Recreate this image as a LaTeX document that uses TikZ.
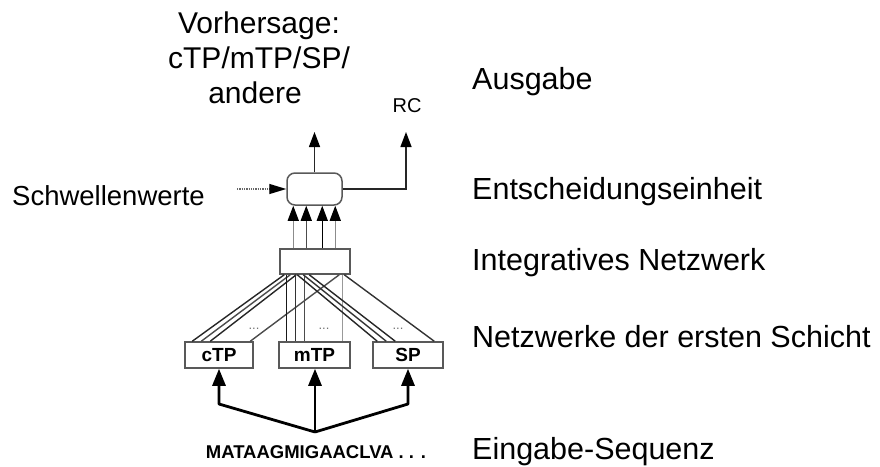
\documentclass[tikz,border=0pt]{standalone}
\usepackage{fontspec}
\setmainfont{Liberation Sans}
\usetikzlibrary{arrows.meta,calc}
\begin{document}
\begin{tikzpicture}[x=1pt,y=-1pt,
  box/.style={draw=black!65, line width=1.5pt, inner sep=0pt, minimum height=26pt, font=\fontsize{19}{21}\selectfont\bfseries},
  lbl/.style={anchor=base west, inner sep=0pt, font=\fontsize{30.5}{35}\selectfont},
  toplbl/.style={anchor=base, inner sep=0pt, font=\fontsize{30}{35}\selectfont},
  thinln/.style={line width=1.4pt, draw=black!85},
  tip/.style={-{Triangle[length=15pt,width=11pt,color=black]}},
  fat/.style={line width=2.8pt, line join=round, -{Triangle[length=17pt,width=13pt]}},
  dotsl/.style={font=\fontsize{13}{13}\selectfont, text=black!55, inner sep=0pt}
]
\useasboundingbox (0,0) rectangle (880,466);

% boxes
\node[box, minimum width=55pt, minimum height=32pt, rounded corners=8pt] (dec) at (314.5,189) {};
\node[box, minimum width=70pt, minimum height=25pt] (integ) at (315,261.5) {};
\node[box, minimum width=68pt] (ctp) at (219,355) {cTP};
\node[box, minimum width=71pt] (mtp) at (314.5,355) {mTP};
\node[box, minimum width=70pt] (sp) at (408,355) {SP};

% sequence
\node[anchor=base, inner sep=0pt, font=\fontsize{18.5}{20}\selectfont\bfseries] (seq) at (316,458) {MATAAGMIGAACLVA . . .};

% input arrows
\coordinate (hub) at (315,432);
\coordinate (lc) at (219,404);
\coordinate (rc) at (408,404);
\draw[fat] (hub) -- (lc) -- (ctp.south);
\draw[fat] (hub) -- (hub |- mtp.south);
\draw[fat] (hub) -- (rc) -- (sp.south);

% first layer to integrative network
\foreach \a/\b/\c in {5/8/black!85, 11/17/black!70, 17/26/black!85, 60/66/black!70}
  \draw[thinln, draw=\c] ($(integ.south west)+(\a,0)$) -- ($(ctp.north west)+(\b,0)$);
\foreach \a/\b/\c in {7/8/black!90, 16/17/black!80, 25/26/black!70, 63/64/black!40}
  \draw[thinln, draw=\c] ($(integ.south west)+(\a,0)$) -- ($(mtp.north west)+(\b,0)$);
\foreach \a/\b/\c in {18/5/black!85, 24/14/black!80, 30/23/black!85, 65/62/black!80}
  \draw[thinln, draw=\c] ($(integ.south west)+(\a,0)$) -- ($(sp.north west)+(\b,0)$);

\node[dotsl] (d1) at (254,329) {...};
\node[dotsl] (d2) at (324,329) {...};
\node[dotsl] (d3) at (398,329) {...};

% integrative to decision
\foreach \a/\c in {14/black!45, 27/black!70, 43/black, 56/black!45}
  \draw[thinln, draw=\c, tip] ($(integ.north west)+(\a,0)$) -- ($(dec.south west)+(\a-7,0)$);

% outputs
\coordinate (outtop) at (315,132);
\coordinate (rctop) at (406,132);
\draw[thinln, tip] (dec.north) -- (dec.north |- outtop);
\draw[thinln, tip] (dec.east) -| (rctop);
\coordinate (thr) at (237,189);
\draw[line width=1.3pt, densely dotted, draw=black!60, -{Triangle[length=17pt,width=10pt,color=black]}] (thr) -- (dec.west);

% labels
\node[toplbl] (v1) at (259,33) {Vorhersage:};
\node[toplbl] (v2) at (259,68) {cTP/mTP/SP/};
\node[toplbl] (v3) at (255,103) {andere};
\node[anchor=base, inner sep=0pt, font=\fontsize{20}{22}\selectfont] (rcl) at (407,112) {RC};
\node[lbl, font=\fontsize{27.5}{33}\selectfont] (thrl) at (12,205) {Schwellenwerte};

\node[lbl] (l1) at (472,89) {Ausgabe};
\node[lbl] (l2) at (472,199) {Entscheidungseinheit};
\node[lbl] (l3) at (472,270) {Integratives Netzwerk};
\node[lbl] (l4) at (472,347) {Netzwerke der ersten Schicht};
\node[lbl] (l5) at (472,459) {Eingabe-Sequenz};
\end{tikzpicture}
\end{document}
